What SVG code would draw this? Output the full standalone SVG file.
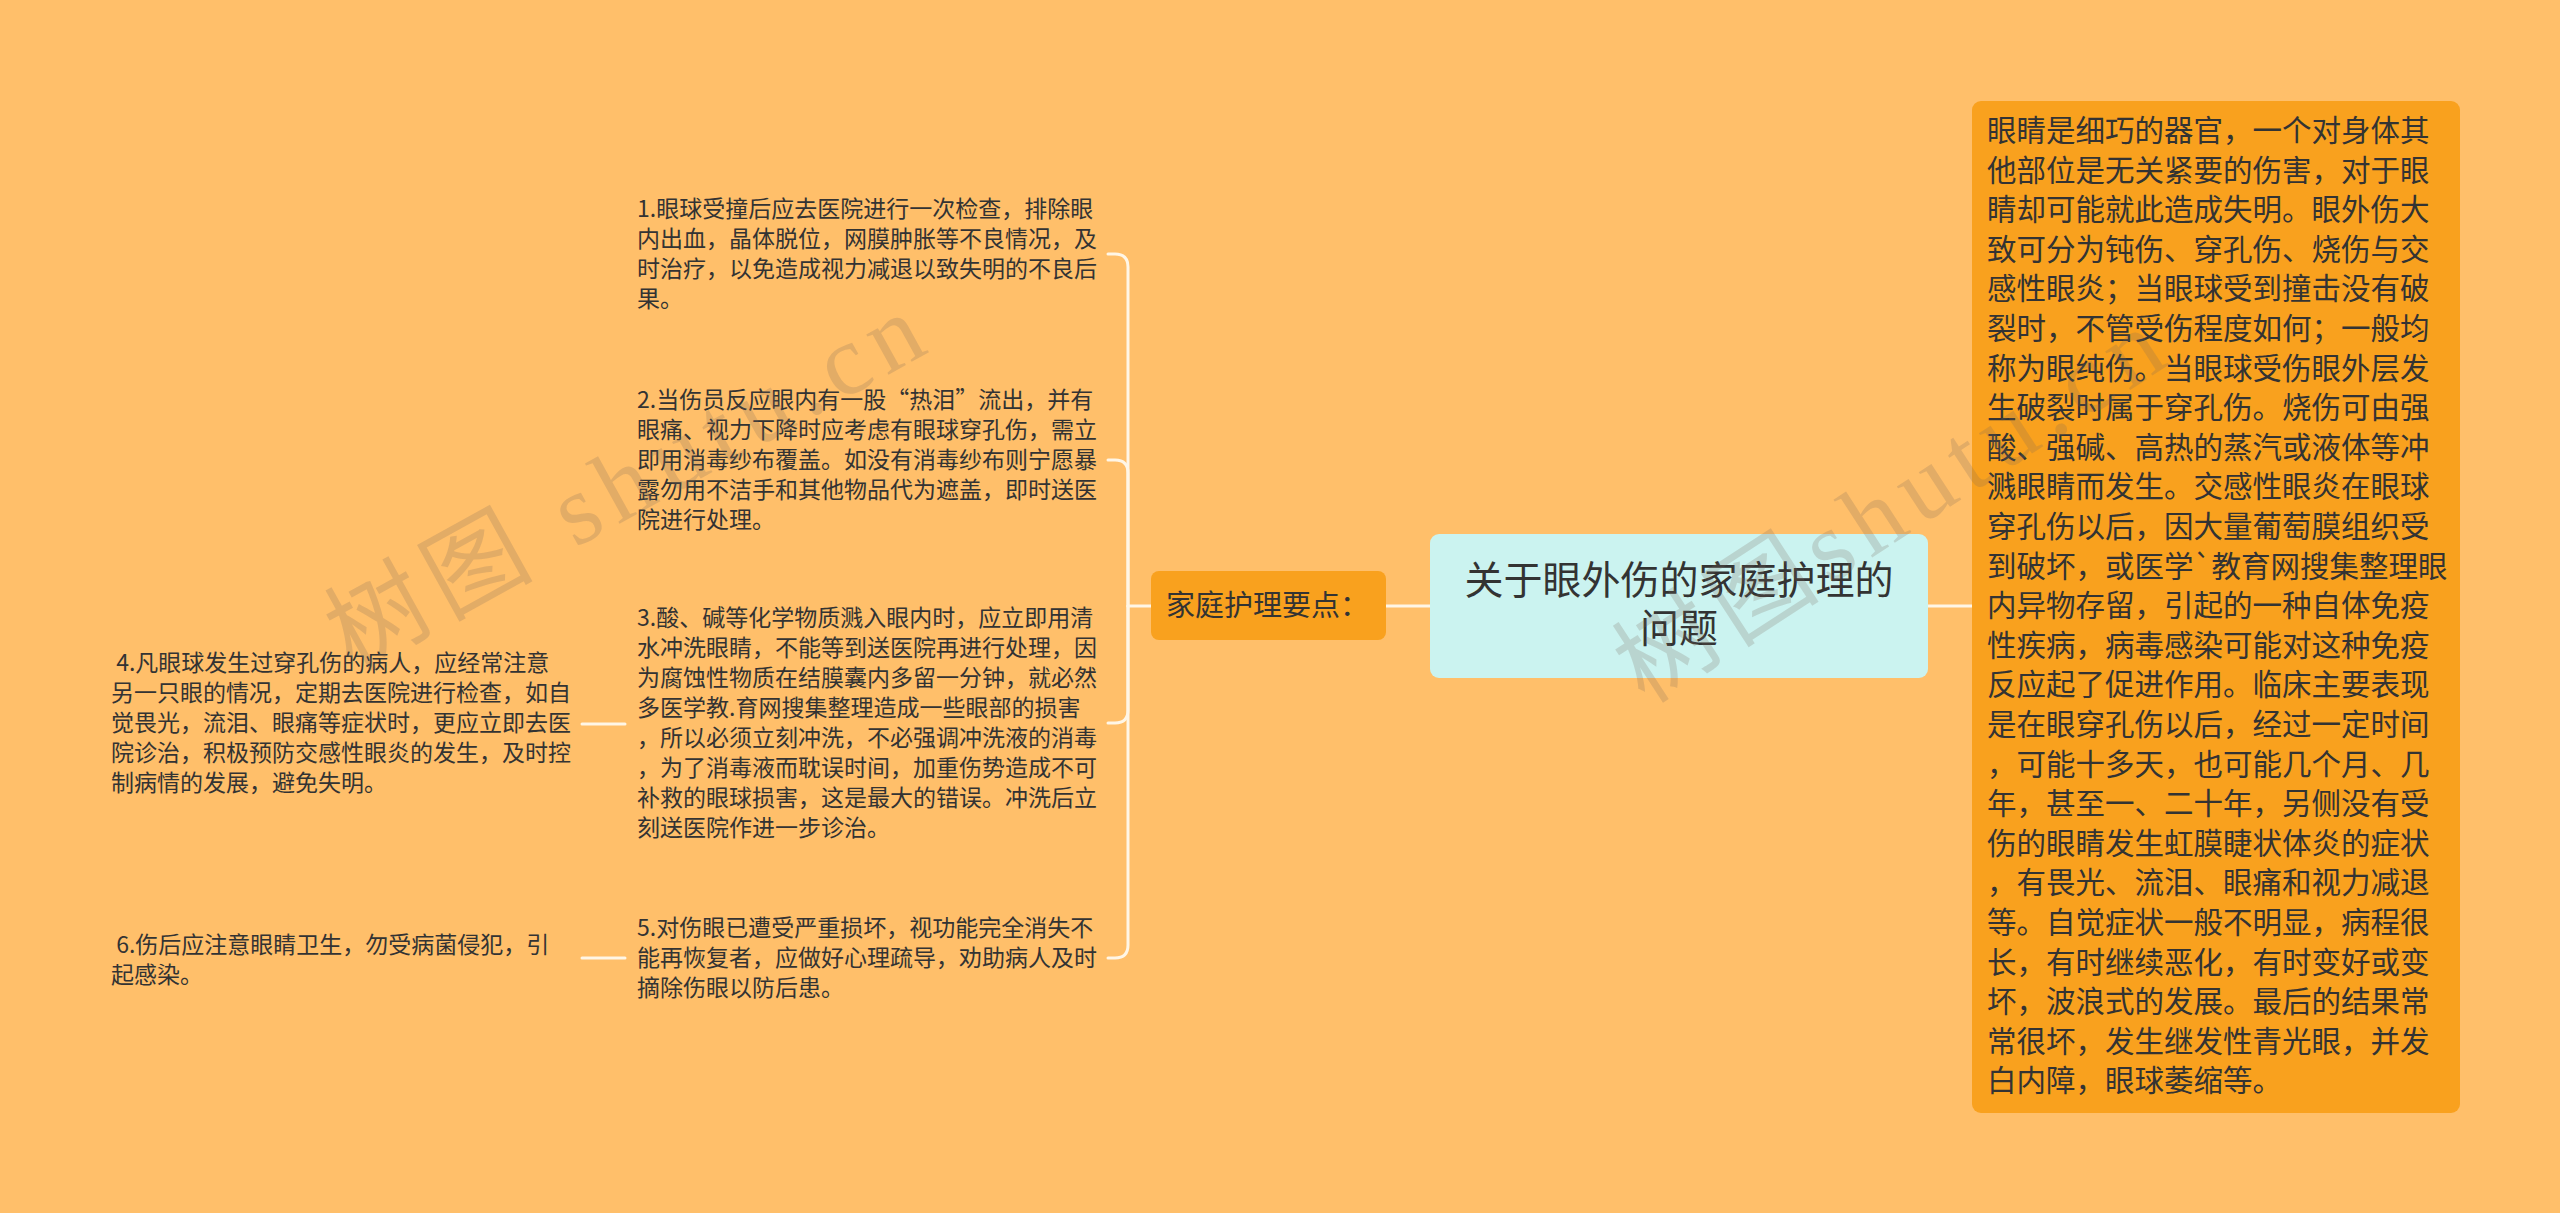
<svg xmlns="http://www.w3.org/2000/svg" width="2560" height="1213" viewBox="0 0 2560 1213">
<style>
.bg{fill:#FFBF6A}
.conn{fill:none;stroke:#FFF6E6;stroke-width:3;stroke-linecap:round}
.item{font-family:"Noto Sans CJK SC","Noto Sans",sans-serif;font-size:23px;fill:#333}
.side{font-family:"Noto Sans CJK SC","Noto Sans",sans-serif;font-size:29.5px;fill:#333}
.main{font-family:"Noto Sans CJK SC","Noto Sans",sans-serif;font-size:39px;fill:#333;text-anchor:middle}
.wm{font-family:"Liberation Serif","Noto Sans CJK SC",serif;font-size:100px;letter-spacing:10px;fill:#7a6a5a;fill-opacity:0.22}
</style>
<rect class="bg" x="0" y="0" width="2560" height="1213"/>

<g id="connectors">
<path class="conn" d="M1928,606 H1972"/>
<path class="conn" d="M1430,606 H1386"/>
<path class="conn" d="M1151,606 H1128"/>
<path class="conn" d="M1128,606 V267 Q1128,254 1115,254 H1108"/>
<path class="conn" d="M1128,606 V473 Q1128,460 1115,460 H1108"/>
<path class="conn" d="M1128,606 V710 Q1128,723 1115,723 H1108"/>
<path class="conn" d="M1128,606 V945 Q1128,958 1115,958 H1108"/>
<path class="conn" d="M625,724 H582"/>
<path class="conn" d="M625,958 H582"/>
</g>

<g id="central">
<rect x="1430" y="534" width="498" height="144" rx="9" fill="#CBF3F0"/>
<text class="main"><tspan x="1679" y="594">关于眼外伤的家庭护理的</tspan><tspan x="1679" y="642">问题</tspan></text>
</g>

<g id="right-summary">
<rect x="1972" y="101" width="488" height="1012" rx="9" fill="#F9A11E"/>
<text class="side">
<tspan x="1987" y="141">眼睛是细巧的器官，一个对身体其</tspan>
<tspan x="1987" y="180.6">他部位是无关紧要的伤害，对于眼</tspan>
<tspan x="1987" y="220.2">睛却可能就此造成失明。眼外伤大</tspan>
<tspan x="1987" y="259.8">致可分为钝伤、穿孔伤、烧伤与交</tspan>
<tspan x="1987" y="299.4">感性眼炎；当眼球受到撞击没有破</tspan>
<tspan x="1987" y="339">裂时，不管受伤程度如何；一般均</tspan>
<tspan x="1987" y="378.6">称为眼纯伤。当眼球受伤眼外层发</tspan>
<tspan x="1987" y="418.2">生破裂时属于穿孔伤。烧伤可由强</tspan>
<tspan x="1987" y="457.8">酸、强碱、高热的蒸汽或液体等冲</tspan>
<tspan x="1987" y="497.4">溅眼睛而发生。交感性眼炎在眼球</tspan>
<tspan x="1987" y="537">穿孔伤以后，因大量葡萄膜组织受</tspan>
<tspan x="1987" y="576.6">到破坏，或医学`教育网搜集整理眼</tspan>
<tspan x="1987" y="616.2">内异物存留，引起的一种自体免疫</tspan>
<tspan x="1987" y="655.8">性疾病，病毒感染可能对这种免疫</tspan>
<tspan x="1987" y="695.4">反应起了促进作用。临床主要表现</tspan>
<tspan x="1987" y="735">是在眼穿孔伤以后，经过一定时间</tspan>
<tspan x="1987" y="774.6">，可能十多天，也可能几个月、几</tspan>
<tspan x="1987" y="814.2">年，甚至一、二十年，另侧没有受</tspan>
<tspan x="1987" y="853.8">伤的眼睛发生虹膜睫状体炎的症状</tspan>
<tspan x="1987" y="893.4">，有畏光、流泪、眼痛和视力减退</tspan>
<tspan x="1987" y="933">等。自觉症状一般不明显，病程很</tspan>
<tspan x="1987" y="972.6">长，有时继续恶化，有时变好或变</tspan>
<tspan x="1987" y="1012.2">坏，波浪式的发展。最后的结果常</tspan>
<tspan x="1987" y="1051.8">常很坏，发生继发性青光眼，并发</tspan>
<tspan x="1987" y="1091.4">白内障，眼球萎缩等。</tspan>
</text>
</g>

<g id="key-points">
<rect x="1151" y="571" width="235" height="69" rx="8" fill="#F9A11E"/>
<text class="side" x="1166" y="616" style="font-size:29px">家庭护理要点：</text>
</g>

<g id="item1">
<text class="item">
<tspan x="637" y="217">1.眼球受撞后应去医院进行一次检查，排除眼</tspan>
<tspan x="637" y="247">内出血，晶体脱位，网膜肿胀等不良情况，及</tspan>
<tspan x="637" y="277">时治疗，以免造成视力减退以致失明的不良后</tspan>
<tspan x="637" y="307">果。</tspan>
</text>
</g>

<g id="item2">
<text class="item">
<tspan x="637" y="408">2.当伤员反应眼内有一股“热泪”流出，并有</tspan>
<tspan x="637" y="438">眼痛、视力下降时应考虑有眼球穿孔伤，需立</tspan>
<tspan x="637" y="468">即用消毒纱布覆盖。如没有消毒纱布则宁愿暴</tspan>
<tspan x="637" y="498">露勿用不洁手和其他物品代为遮盖，即时送医</tspan>
<tspan x="637" y="528">院进行处理。</tspan>
</text>
</g>

<g id="item3">
<text class="item">
<tspan x="637" y="626">3.酸、碱等化学物质溅入眼内时，应立即用清</tspan>
<tspan x="637" y="656">水冲洗眼睛，不能等到送医院再进行处理，因</tspan>
<tspan x="637" y="686">为腐蚀性物质在结膜囊内多留一分钟，就必然</tspan>
<tspan x="637" y="716">多医学教.育网搜集整理造成一些眼部的损害</tspan>
<tspan x="637" y="746">，所以必须立刻冲洗，不必强调冲洗液的消毒</tspan>
<tspan x="637" y="776">，为了消毒液而耽误时间，加重伤势造成不可</tspan>
<tspan x="637" y="806">补救的眼球损害，这是最大的错误。冲洗后立</tspan>
<tspan x="637" y="836">刻送医院作进一步诊治。</tspan>
</text>
</g>

<g id="item5">
<text class="item">
<tspan x="637" y="936">5.对伤眼已遭受严重损坏，视功能完全消失不</tspan>
<tspan x="637" y="966">能再恢复者，应做好心理疏导，劝助病人及时</tspan>
<tspan x="637" y="996">摘除伤眼以防后患。</tspan>
</text>
</g>

<g id="item4">
<text class="item" xml:space="preserve"><tspan x="111" y="671"> 4.凡眼球发生过穿孔伤的病人，应经常注意</tspan><tspan x="111" y="701">另一只眼的情况，定期去医院进行检查，如自</tspan><tspan x="111" y="731">觉畏光，流泪、眼痛等症状时，更应立即去医</tspan><tspan x="111" y="761">院诊治，积极预防交感性眼炎的发生，及时控</tspan><tspan x="111" y="791">制病情的发展，避免失明。</tspan></text>
</g>

<g id="item6">
<text class="item" xml:space="preserve"><tspan x="111" y="953"> 6.伤后应注意眼睛卫生，勿受病菌侵犯，引</tspan><tspan x="111" y="983">起感染。</tspan></text>
</g>

<g id="watermarks">
<text class="wm" transform="translate(352,672) rotate(-29)">树图 shutu.cn</text>
<text class="wm" transform="translate(1645,705) rotate(-33)">树图shutu.cn</text>
</g>
</svg>
